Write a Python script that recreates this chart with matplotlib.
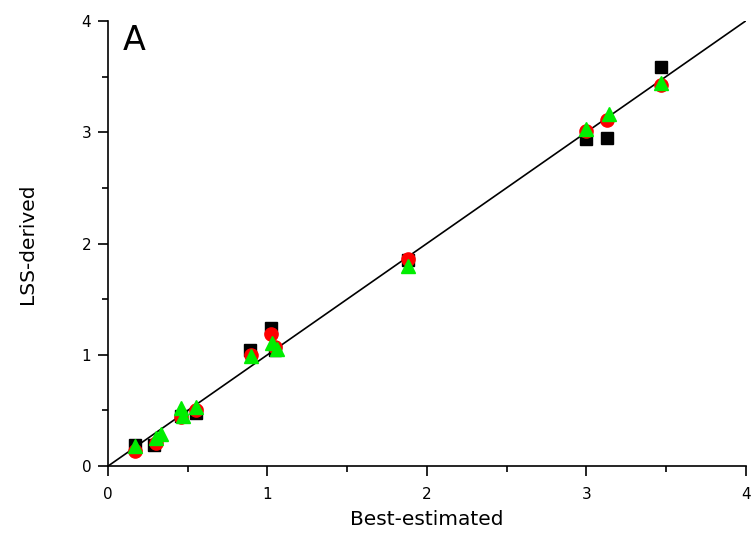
import numpy as np
import matplotlib.pyplot as plt
from matplotlib.ticker import MultipleLocator

# black squares
sq_x = [0.17, 0.29, 0.46, 0.55, 0.89, 1.02, 1.05, 1.88, 3.00, 3.13, 3.47]
sq_y = [0.19, 0.19, 0.45, 0.48, 1.04, 1.24, 1.04, 1.85, 2.94, 2.95, 3.59]

# red circles
ci_x = [0.17, 0.30, 0.46, 0.55, 0.90, 1.02, 1.05, 1.88, 3.00, 3.13, 3.47]
ci_y = [0.14, 0.21, 0.44, 0.50, 1.00, 1.19, 1.07, 1.86, 3.01, 3.11, 3.42]

# green triangles
tr_x = [0.17, 0.30, 0.33, 0.46, 0.47, 0.55, 0.90, 1.03, 1.06, 1.88, 3.00, 3.14, 3.47]
tr_y = [0.18, 0.25, 0.29, 0.52, 0.45, 0.53, 0.99, 1.11, 1.05, 1.80, 3.03, 3.16, 3.44]

line_x = [0, 4]
line_y = [0, 4]

fig = plt.figure(figsize=(7.52, 5.37), dpi=100)
ax = fig.add_axes([0.1436, 0.132, 0.848, 0.829])

ax.plot(line_x, line_y, color="black", linewidth=1.2, zorder=1)
ax.plot(sq_x, sq_y, "s", color="black", markersize=8.5, zorder=2)
ax.plot(ci_x, ci_y, "o", color="red", markersize=9.5, zorder=3)
ax.plot(tr_x, tr_y, "^", color="#00ee00", markersize=10.5, zorder=4)

ax.set_xlim(0, 4)
ax.set_ylim(0, 4)
ax.xaxis.set_major_locator(MultipleLocator(1))
ax.yaxis.set_major_locator(MultipleLocator(1))
ax.xaxis.set_minor_locator(MultipleLocator(0.5))
ax.yaxis.set_minor_locator(MultipleLocator(0.5))
ax.tick_params(which="major", direction="out", length=7, width=1.2, labelsize=11)
ax.tick_params(axis="x", which="major", pad=8)
ax.tick_params(axis="y", which="major", pad=5)
ax.tick_params(which="minor", direction="out", length=4, width=1.2)

for s in ["top", "right"]:
    ax.spines[s].set_visible(False)
for s in ["left", "bottom"]:
    ax.spines[s].set_linewidth(1.2)

ax.set_xlabel("Best-estimated", fontsize=14.5, labelpad=6)
ax.set_ylabel("LSS-derived", fontsize=14.5, labelpad=32)
ax.text(0.09, 3.97, "A", fontsize=24, va="top", ha="left")

fig.savefig("out.png", dpi=100)
